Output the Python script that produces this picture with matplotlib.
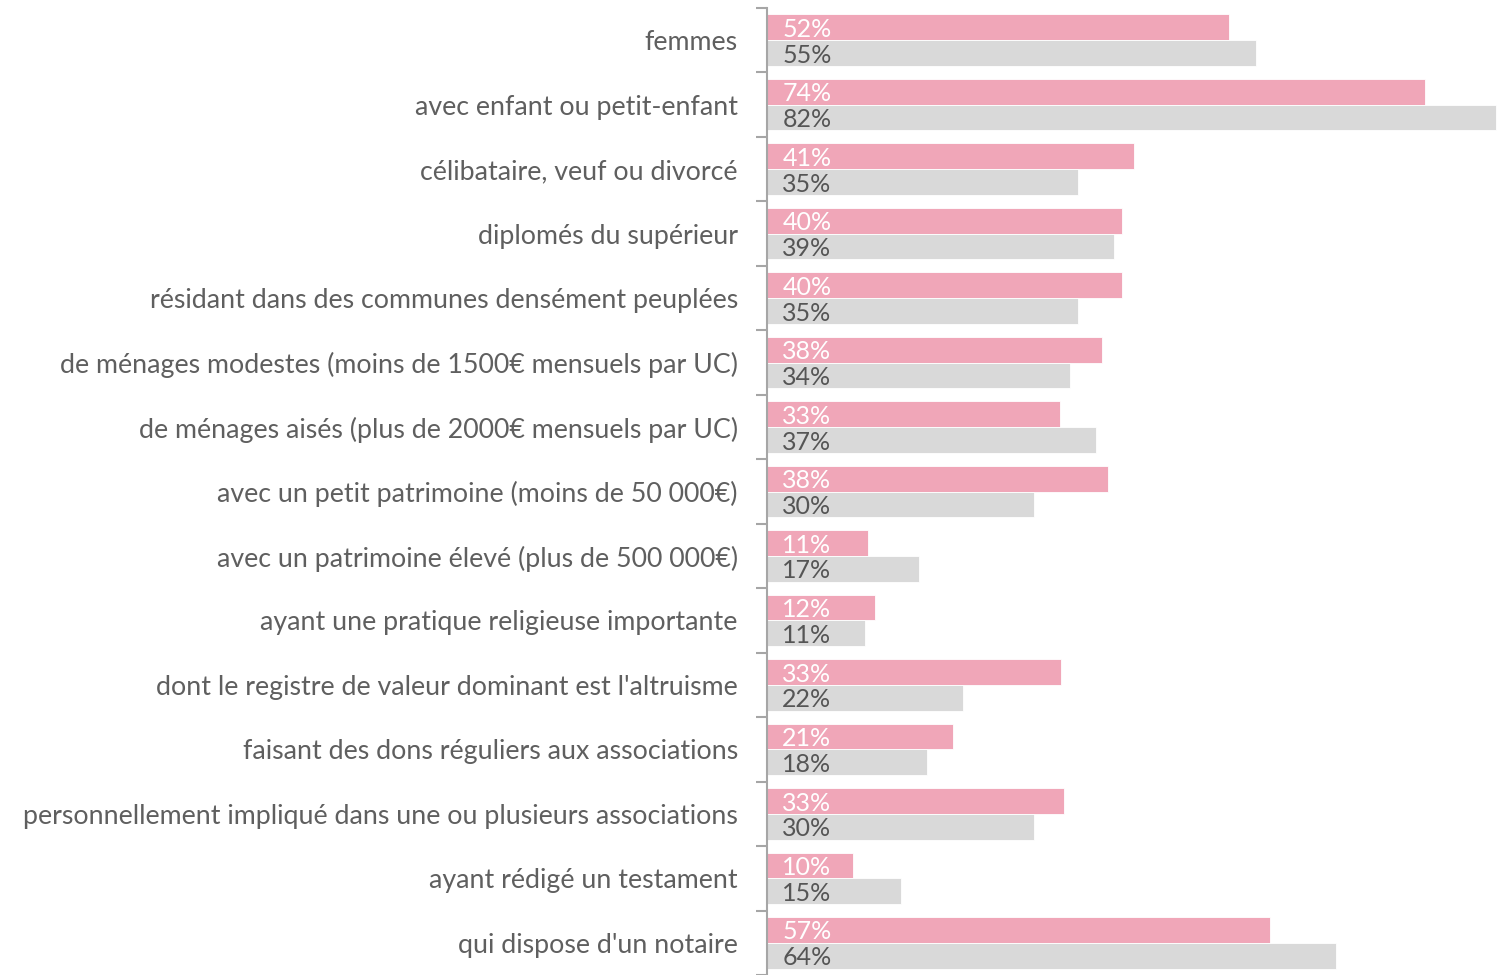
import matplotlib.pyplot as plt
import numpy as np

categories = [
    "femmes",
    "avec enfant ou petit-enfant",
    "célibataire, veuf ou divorcé",
    "diplomés du supérieur",
    "résidant dans des communes densément peuplées",
    "de ménages modestes (moins de 1500€ mensuels par UC)",
    "de ménages aisés (plus de 2000€ mensuels par UC)",
    "avec un petit patrimoine (moins de 50 000€)",
    "avec un patrimoine élevé (plus de 500 000€)",
    "ayant une pratique religieuse importante",
    "dont le registre de valeur dominant est l'altruisme",
    "faisant des dons réguliers aux associations",
    "personnellement impliqué dans une ou plusieurs associations",
    "ayant rédigé un testament",
    "qui dispose d'un notaire",
]
# pink series (bar lengths, labels rounded)
pink_vals = [52.0, 74.0, 41.3, 39.9, 39.9, 37.7, 33.0, 38.4, 11.4, 12.1, 33.1, 20.9, 33.4, 9.7, 56.6]
# gray series
gray_vals = [55.0, 82.0, 35.0, 39.0, 35.0, 34.1, 37.0, 30.0, 17.1, 11.0, 22.0, 18.0, 30.0, 15.1, 64.0]

PINK = "#F0A6B8"
GRAY = "#D9D9D9"
TXT = "#5f5f5f"
FONT = ["Lato", "DejaVu Sans"]

W, H = 1498, 975
fig = plt.figure(figsize=(W / 100, H / 100), dpi=100)
ax = fig.add_axes([767 / W, 0, 1 - 767 / W, 1 - 8 / H])

y = np.arange(len(categories))
ax.barh(y - 0.2, pink_vals, height=0.4, color=PINK, edgecolor="white", linewidth=0.6)
ax.barh(y + 0.2, gray_vals, height=0.4, color=GRAY, edgecolor="white", linewidth=0.6)

for i, (p, g) in enumerate(zip(pink_vals, gray_vals)):
    ax.annotate(f"{p:.0f}%", (0, i - 0.2), xytext=(11, -1.5), textcoords="offset points",
                va="center", ha="left", color="white", fontsize=18, family=FONT)
    ax.annotate(f"{g:.0f}%", (0, i + 0.2), xytext=(11, -1.5), textcoords="offset points",
                va="center", ha="left", color="#555555", fontsize=18, family=FONT)

ax.set_xlim(0, 82 * (W - 767) / (1496 - 767))
ax.set_ylim(-0.5 + (H - 8) / 64.86, -0.5)

ax.set_yticks(y)
ax.set_yticklabels(categories, family=FONT, fontsize=19.3, color=TXT)
ax.tick_params(axis="y", which="major", length=0, pad=21)
ax.set_yticks(np.arange(-0.5, len(categories), 1), minor=True)
ax.tick_params(axis="y", which="minor", length=8, width=1.5, color="#A6A6A6")
ax.set_xticks([])

for s in ["top", "right", "bottom"]:
    ax.spines[s].set_visible(False)
ax.spines["left"].set_color("#A6A6A6")
ax.spines["left"].set_linewidth(1.5)

fig.savefig("out.png", dpi=100)
